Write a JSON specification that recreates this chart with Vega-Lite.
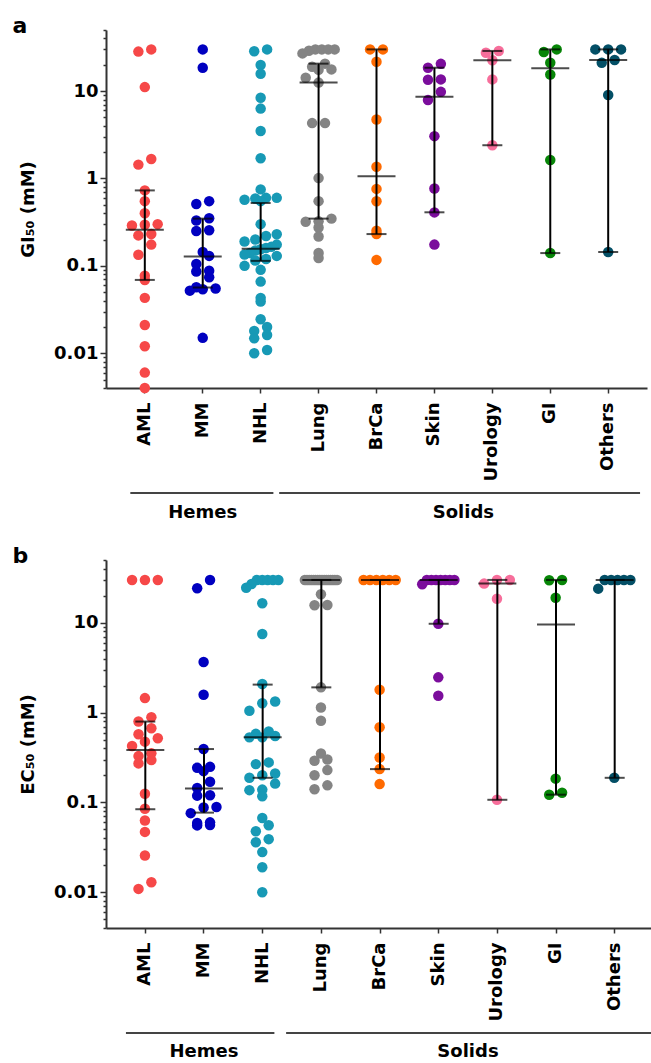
{
  "$schema": "https://vega.github.io/schema/vega-lite/v6.json",
  "padding": {"left": 12, "top": 15, "right": 0, "bottom": 0},
  "spacing": 23,
  "config": {
    "font": "DejaVu Sans",
    "view": {"stroke": null},
    "axis": {"grid": false, "domainColor": "#333", "domainWidth": 2, "tickColor": "#333", "tickWidth": 1.5, "labelColor": "black", "labelFont": "DejaVu Sans", "labelFontSize": 18, "labelFontWeight": "bold", "titleFont": "DejaVu Sans", "titleFontSize": 18, "titleFontWeight": "bold", "titleColor": "black"},
    "title": {"font": "DejaVu Sans", "fontSize": 22, "fontWeight": "bold", "color": "black", "anchor": "start"}
  },
  "datasets": {
    "pts": [
      {"panel":"a","group":"AML","value":30},{"panel":"a","group":"AML","value":28.3},{"panel":"a","group":"AML","value":11.1},{"panel":"a","group":"AML","value":1.67},{"panel":"a","group":"AML","value":1.44},{"panel":"a","group":"AML","value":0.73},{"panel":"a","group":"AML","value":0.55},{"panel":"a","group":"AML","value":0.40},{"panel":"a","group":"AML","value":0.30},{"panel":"a","group":"AML","value":0.295},{"panel":"a","group":"AML","value":0.29},{"panel":"a","group":"AML","value":0.231},{"panel":"a","group":"AML","value":0.223},{"panel":"a","group":"AML","value":0.175},{"panel":"a","group":"AML","value":0.134},{"panel":"a","group":"AML","value":0.077},{"panel":"a","group":"AML","value":0.069},{"panel":"a","group":"AML","value":0.043},{"panel":"a","group":"AML","value":0.021},{"panel":"a","group":"AML","value":0.012},{"panel":"a","group":"AML","value":0.006},{"panel":"a","group":"AML","value":0.004},
      {"panel":"a","group":"MM","value":30},{"panel":"a","group":"MM","value":18.5},{"panel":"a","group":"MM","value":0.55},{"panel":"a","group":"MM","value":0.51},{"panel":"a","group":"MM","value":0.35},{"panel":"a","group":"MM","value":0.33},{"panel":"a","group":"MM","value":0.255},{"panel":"a","group":"MM","value":0.25},{"panel":"a","group":"MM","value":0.144},{"panel":"a","group":"MM","value":0.13},{"panel":"a","group":"MM","value":0.105},{"panel":"a","group":"MM","value":0.088},{"panel":"a","group":"MM","value":0.086},{"panel":"a","group":"MM","value":0.074},{"panel":"a","group":"MM","value":0.057},{"panel":"a","group":"MM","value":0.055},{"panel":"a","group":"MM","value":0.054},{"panel":"a","group":"MM","value":0.052},{"panel":"a","group":"MM","value":0.015},
      {"panel":"a","group":"NHL","value":30},{"panel":"a","group":"NHL","value":28.5},{"panel":"a","group":"NHL","value":19.9},{"panel":"a","group":"NHL","value":15.8},{"panel":"a","group":"NHL","value":8.4},{"panel":"a","group":"NHL","value":6.3},{"panel":"a","group":"NHL","value":3.5},{"panel":"a","group":"NHL","value":1.7},{"panel":"a","group":"NHL","value":0.75},{"panel":"a","group":"NHL","value":0.60},{"panel":"a","group":"NHL","value":0.59},{"panel":"a","group":"NHL","value":0.55},{"panel":"a","group":"NHL","value":0.57},{"panel":"a","group":"NHL","value":0.60},{"panel":"a","group":"NHL","value":0.30},{"panel":"a","group":"NHL","value":0.23},{"panel":"a","group":"NHL","value":0.22},{"panel":"a","group":"NHL","value":0.20},{"panel":"a","group":"NHL","value":0.19},{"panel":"a","group":"NHL","value":0.175},{"panel":"a","group":"NHL","value":0.165},{"panel":"a","group":"NHL","value":0.16},{"panel":"a","group":"NHL","value":0.155},{"panel":"a","group":"NHL","value":0.15},{"panel":"a","group":"NHL","value":0.14},{"panel":"a","group":"NHL","value":0.135},{"panel":"a","group":"NHL","value":0.13},{"panel":"a","group":"NHL","value":0.12},{"panel":"a","group":"NHL","value":0.115},{"panel":"a","group":"NHL","value":0.10},{"panel":"a","group":"NHL","value":0.09},{"panel":"a","group":"NHL","value":0.066},{"panel":"a","group":"NHL","value":0.043},{"panel":"a","group":"NHL","value":0.039},{"panel":"a","group":"NHL","value":0.0245},{"panel":"a","group":"NHL","value":0.020},{"panel":"a","group":"NHL","value":0.018},{"panel":"a","group":"NHL","value":0.0162},{"panel":"a","group":"NHL","value":0.0148},{"panel":"a","group":"NHL","value":0.0109},{"panel":"a","group":"NHL","value":0.0100},
      {"panel":"a","group":"Lung","value":30},{"panel":"a","group":"Lung","value":30},{"panel":"a","group":"Lung","value":30},{"panel":"a","group":"Lung","value":30},{"panel":"a","group":"Lung","value":29},{"panel":"a","group":"Lung","value":27},{"panel":"a","group":"Lung","value":20.6},{"panel":"a","group":"Lung","value":19},{"panel":"a","group":"Lung","value":17.7},{"panel":"a","group":"Lung","value":17.5},{"panel":"a","group":"Lung","value":14.2},{"panel":"a","group":"Lung","value":12.5},{"panel":"a","group":"Lung","value":4.3},{"panel":"a","group":"Lung","value":4.3},{"panel":"a","group":"Lung","value":1.01},{"panel":"a","group":"Lung","value":0.55},{"panel":"a","group":"Lung","value":0.347},{"panel":"a","group":"Lung","value":0.323},{"panel":"a","group":"Lung","value":0.32},{"panel":"a","group":"Lung","value":0.275},{"panel":"a","group":"Lung","value":0.217},{"panel":"a","group":"Lung","value":0.14},{"panel":"a","group":"Lung","value":0.123},
      {"panel":"a","group":"BrCa","value":30},{"panel":"a","group":"BrCa","value":30},{"panel":"a","group":"BrCa","value":21.7},{"panel":"a","group":"BrCa","value":4.73},{"panel":"a","group":"BrCa","value":1.36},{"panel":"a","group":"BrCa","value":0.76},{"panel":"a","group":"BrCa","value":0.548},{"panel":"a","group":"BrCa","value":0.252},{"panel":"a","group":"BrCa","value":0.231},{"panel":"a","group":"BrCa","value":0.117},
      {"panel":"a","group":"Skin","value":20.5},{"panel":"a","group":"Skin","value":18.5},{"panel":"a","group":"Skin","value":13.6},{"panel":"a","group":"Skin","value":13.5},{"panel":"a","group":"Skin","value":9.8},{"panel":"a","group":"Skin","value":7.9},{"panel":"a","group":"Skin","value":3.05},{"panel":"a","group":"Skin","value":0.766},{"panel":"a","group":"Skin","value":0.409},{"panel":"a","group":"Skin","value":0.175},
      {"panel":"a","group":"Urology","value":28.8},{"panel":"a","group":"Urology","value":27.5},{"panel":"a","group":"Urology","value":22.5},{"panel":"a","group":"Urology","value":13.6},{"panel":"a","group":"Urology","value":2.4},
      {"panel":"a","group":"GI","value":30},{"panel":"a","group":"GI","value":28},{"panel":"a","group":"GI","value":21.1},{"panel":"a","group":"GI","value":15.5},{"panel":"a","group":"GI","value":1.63},{"panel":"a","group":"GI","value":0.14},
      {"panel":"a","group":"Others","value":30},{"panel":"a","group":"Others","value":30},{"panel":"a","group":"Others","value":30},{"panel":"a","group":"Others","value":22.7},{"panel":"a","group":"Others","value":21.1},{"panel":"a","group":"Others","value":9.0},{"panel":"a","group":"Others","value":0.144},
      {"panel":"b","group":"AML","value":30},{"panel":"b","group":"AML","value":30},{"panel":"b","group":"AML","value":30},{"panel":"b","group":"AML","value":1.45},{"panel":"b","group":"AML","value":0.89},{"panel":"b","group":"AML","value":0.795},{"panel":"b","group":"AML","value":0.67},{"panel":"b","group":"AML","value":0.573},{"panel":"b","group":"AML","value":0.518},{"panel":"b","group":"AML","value":0.475},{"panel":"b","group":"AML","value":0.425},{"panel":"b","group":"AML","value":0.352},{"panel":"b","group":"AML","value":0.328},{"panel":"b","group":"AML","value":0.296},{"panel":"b","group":"AML","value":0.272},{"panel":"b","group":"AML","value":0.125},{"panel":"b","group":"AML","value":0.085},{"panel":"b","group":"AML","value":0.063},{"panel":"b","group":"AML","value":0.047},{"panel":"b","group":"AML","value":0.0257},{"panel":"b","group":"AML","value":0.0129},{"panel":"b","group":"AML","value":0.0109},
      {"panel":"b","group":"MM","value":30},{"panel":"b","group":"MM","value":24.2},{"panel":"b","group":"MM","value":3.66},{"panel":"b","group":"MM","value":1.58},{"panel":"b","group":"MM","value":0.393},{"panel":"b","group":"MM","value":0.249},{"panel":"b","group":"MM","value":0.243},{"panel":"b","group":"MM","value":0.223},{"panel":"b","group":"MM","value":0.170},{"panel":"b","group":"MM","value":0.145},{"panel":"b","group":"MM","value":0.120},{"panel":"b","group":"MM","value":0.119},{"panel":"b","group":"MM","value":0.089},{"panel":"b","group":"MM","value":0.088},{"panel":"b","group":"MM","value":0.076},{"panel":"b","group":"MM","value":0.060},{"panel":"b","group":"MM","value":0.059},{"panel":"b","group":"MM","value":0.056},{"panel":"b","group":"MM","value":0.0555},
      {"panel":"b","group":"NHL","value":30},{"panel":"b","group":"NHL","value":30},{"panel":"b","group":"NHL","value":30},{"panel":"b","group":"NHL","value":30},{"panel":"b","group":"NHL","value":30},{"panel":"b","group":"NHL","value":27},{"panel":"b","group":"NHL","value":24.5},{"panel":"b","group":"NHL","value":16.5},{"panel":"b","group":"NHL","value":7.5},{"panel":"b","group":"NHL","value":2.08},{"panel":"b","group":"NHL","value":1.33},{"panel":"b","group":"NHL","value":1.27},{"panel":"b","group":"NHL","value":1.05},{"panel":"b","group":"NHL","value":0.615},{"panel":"b","group":"NHL","value":0.58},{"panel":"b","group":"NHL","value":0.55},{"panel":"b","group":"NHL","value":0.53},{"panel":"b","group":"NHL","value":0.53},{"panel":"b","group":"NHL","value":0.279},{"panel":"b","group":"NHL","value":0.267},{"panel":"b","group":"NHL","value":0.21},{"panel":"b","group":"NHL","value":0.201},{"panel":"b","group":"NHL","value":0.188},{"panel":"b","group":"NHL","value":0.162},{"panel":"b","group":"NHL","value":0.139},{"panel":"b","group":"NHL","value":0.137},{"panel":"b","group":"NHL","value":0.117},{"panel":"b","group":"NHL","value":0.067},{"panel":"b","group":"NHL","value":0.0556},{"panel":"b","group":"NHL","value":0.0477},{"panel":"b","group":"NHL","value":0.039},{"panel":"b","group":"NHL","value":0.036},{"panel":"b","group":"NHL","value":0.028},{"panel":"b","group":"NHL","value":0.019},{"panel":"b","group":"NHL","value":0.010},
      {"panel":"b","group":"Lung","value":30},{"panel":"b","group":"Lung","value":30},{"panel":"b","group":"Lung","value":30},{"panel":"b","group":"Lung","value":30},{"panel":"b","group":"Lung","value":30},{"panel":"b","group":"Lung","value":30},{"panel":"b","group":"Lung","value":30},{"panel":"b","group":"Lung","value":30},{"panel":"b","group":"Lung","value":30},{"panel":"b","group":"Lung","value":30},{"panel":"b","group":"Lung","value":30},{"panel":"b","group":"Lung","value":30},{"panel":"b","group":"Lung","value":30},{"panel":"b","group":"Lung","value":30},{"panel":"b","group":"Lung","value":30},{"panel":"b","group":"Lung","value":30},{"panel":"b","group":"Lung","value":20.8},{"panel":"b","group":"Lung","value":15.8},{"panel":"b","group":"Lung","value":15.7},{"panel":"b","group":"Lung","value":1.91},{"panel":"b","group":"Lung","value":1.14},{"panel":"b","group":"Lung","value":0.81},{"panel":"b","group":"Lung","value":0.35},{"panel":"b","group":"Lung","value":0.30},{"panel":"b","group":"Lung","value":0.291},{"panel":"b","group":"Lung","value":0.229},{"panel":"b","group":"Lung","value":0.201},{"panel":"b","group":"Lung","value":0.155},{"panel":"b","group":"Lung","value":0.14},
      {"panel":"b","group":"BrCa","value":30},{"panel":"b","group":"BrCa","value":30},{"panel":"b","group":"BrCa","value":30},{"panel":"b","group":"BrCa","value":30},{"panel":"b","group":"BrCa","value":30},{"panel":"b","group":"BrCa","value":30},{"panel":"b","group":"BrCa","value":1.80},{"panel":"b","group":"BrCa","value":0.687},{"panel":"b","group":"BrCa","value":0.317},{"panel":"b","group":"BrCa","value":0.235},{"panel":"b","group":"BrCa","value":0.16},
      {"panel":"b","group":"Skin","value":30},{"panel":"b","group":"Skin","value":30},{"panel":"b","group":"Skin","value":30},{"panel":"b","group":"Skin","value":30},{"panel":"b","group":"Skin","value":30},{"panel":"b","group":"Skin","value":30},{"panel":"b","group":"Skin","value":30},{"panel":"b","group":"Skin","value":26.9},{"panel":"b","group":"Skin","value":9.75},{"panel":"b","group":"Skin","value":2.47},{"panel":"b","group":"Skin","value":1.54},
      {"panel":"b","group":"Urology","value":30},{"panel":"b","group":"Urology","value":30},{"panel":"b","group":"Urology","value":27.3},{"panel":"b","group":"Urology","value":18.5},{"panel":"b","group":"Urology","value":0.107},
      {"panel":"b","group":"GI","value":30},{"panel":"b","group":"GI","value":29.8},{"panel":"b","group":"GI","value":19.0},{"panel":"b","group":"GI","value":0.184},{"panel":"b","group":"GI","value":0.128},{"panel":"b","group":"GI","value":0.122},
      {"panel":"b","group":"Others","value":30},{"panel":"b","group":"Others","value":30},{"panel":"b","group":"Others","value":30},{"panel":"b","group":"Others","value":30},{"panel":"b","group":"Others","value":30},{"panel":"b","group":"Others","value":24},{"panel":"b","group":"Others","value":0.188}
    ],
    "stats": [
      {"panel":"a","group":"AML","median":0.259,"q1":0.069,"q3":0.73},
      {"panel":"a","group":"MM","median":0.128,"q1":0.0565,"q3":0.347},
      {"panel":"a","group":"NHL","median":0.157,"q1":0.114,"q3":0.524},
      {"panel":"a","group":"Lung","median":12.5,"q1":0.347,"q3":20.6},
      {"panel":"a","group":"BrCa","median":1.06,"q1":0.231,"q3":30},
      {"panel":"a","group":"Skin","median":8.6,"q1":0.41,"q3":18.5},
      {"panel":"a","group":"Urology","median":22.6,"q1":2.4,"q3":28.8},
      {"panel":"a","group":"GI","median":18.2,"q1":0.14,"q3":30},
      {"panel":"a","group":"Others","median":22.7,"q1":0.144,"q3":30},
      {"panel":"b","group":"AML","median":0.384,"q1":0.084,"q3":0.795},
      {"panel":"b","group":"MM","median":0.143,"q1":0.077,"q3":0.393},
      {"panel":"b","group":"NHL","median":0.531,"q1":0.188,"q3":2.05},
      {"panel":"b","group":"Lung","median":30,"q1":1.91,"q3":30},
      {"panel":"b","group":"BrCa","median":30,"q1":0.235,"q3":30},
      {"panel":"b","group":"Skin","median":30,"q1":9.75,"q3":30},
      {"panel":"b","group":"Urology","median":27.3,"q1":0.107,"q3":30},
      {"panel":"b","group":"GI","median":9.6,"q1":0.122,"q3":30},
      {"panel":"b","group":"Others","median":30,"q1":0.188,"q3":30}
    ],
    "groups": [
      {"label":"Hemes","from":"AML","to":"NHL","mid":"MM"},
      {"label":"Solids","from":"Lung","to":"Others","mid":"Urology"}
    ]
  },
  "vconcat": [
    {
      "spacing": 10,
      "vconcat": [
        {
          "title": {"text": "a", "frame": "bounds", "offset": -17, "dx": -7},
          "width": 541, "height": 358,
          "encoding": {
            "x": {"field": "group", "type": "nominal",
              "scale": {"domain": ["AML","MM","NHL","Lung","BrCa","Skin","Urology","GI","Others"], "paddingInner": 0, "paddingOuter": 0.17},
              "axis": {"title": null, "labelAngle": -90, "labelAlign": "right", "labelBaseline": "middle", "tickSize": 5, "labelPadding": 9}}
          },
          "layer": [
            {
              "data": {"name": "pts"},
              "transform": [
                {"filter": {"field": "panel", "equal": "a"}},
                {"calculate": "floor(log(datum.value) / LN10 / 0.125)", "as": "bin"},
                {"joinaggregate": [{"op": "count", "as": "n"}], "groupby": ["group", "bin"]},
                {"window": [{"op": "row_number", "as": "r"}], "groupby": ["group", "bin"], "sort": [{"field": "value", "order": "ascending"}]},
                {"calculate": "(datum.r - (datum.n + 1) / 2) * min(2, 5 / max(1, datum.n - 1))", "as": "jit"}
              ],
              "mark": {"type": "circle", "size": 110, "opacity": 1},
              "encoding": {
                "xOffset": {"field": "jit", "type": "quantitative", "scale": {"domain": [-4.5, 4.5], "zero": false, "nice": false}},
                "y": {"field": "value", "type": "quantitative", "title": "GI₅₀ (mM)",
                  "scale": {"type": "log", "domain": [0.004, 50], "nice": false},
                  "axis": {"values": [0.004,0.005,0.006,0.007,0.008,0.009,0.01,0.02,0.03,0.04,0.05,0.06,0.07,0.08,0.09,0.1,0.2,0.3,0.4,0.5,0.6,0.7,0.8,0.9,1,2,3,4,5,6,7,8,9,10,20,30,40,50],
                    "format": "~g", "labelOverlap": false, "labelBound": false, "labelFlush": false,
                    "labelExpr": "indexof([0.01,0.1,1,10], datum.value) >= 0 ? datum.label : ''",
                    "tickSize": {"condition": {"test": "indexof([0.01,0.1,1,10], datum.value) >= 0", "value": 6}, "value": 3},
                    "labelPadding": 2, "titlePadding": 16}},
                "color": {"field": "group", "type": "nominal", "legend": null,
                  "scale": {"domain": ["AML","MM","NHL","Lung","BrCa","Skin","Urology","GI","Others"],
                    "range": ["#f64848","#0000c0","#1799b5","#848484","#ff6a00","#7b0d9c","#f76e9b","#078607","#034f66"]}}
              }
            },
            {
              "data": {"name": "stats"},
              "transform": [{"filter": {"field": "panel", "equal": "a"}}],
              "mark": {"type": "rule", "color": "black", "strokeWidth": 2},
              "encoding": {"y": {"field": "q1", "type": "quantitative", "title": "GI₅₀ (mM)"}, "y2": {"field": "q3"}}
            },
            {
              "data": {"name": "stats"},
              "transform": [{"filter": {"field": "panel", "equal": "a"}}],
              "mark": {"type": "tick", "color": "black", "size": 38, "thickness": 2},
              "encoding": {"y": {"field": "median", "type": "quantitative", "title": "GI₅₀ (mM)"}}
            },
            {
              "data": {"name": "stats"},
              "transform": [{"filter": {"field": "panel", "equal": "a"}}],
              "mark": {"type": "tick", "color": "black", "size": 20, "thickness": 2},
              "encoding": {"y": {"field": "q1", "type": "quantitative", "title": "GI₅₀ (mM)"}}
            },
            {
              "data": {"name": "stats"},
              "transform": [{"filter": {"field": "panel", "equal": "a"}}],
              "mark": {"type": "tick", "color": "black", "size": 20, "thickness": 2},
              "encoding": {"y": {"field": "q3", "type": "quantitative", "title": "GI₅₀ (mM)"}}
            }
          ]
        },
        {
          "width": 541, "height": 2,
          "data": {"name": "groups"},
          "layer": [
            {
              "transform": [{"filter": {"field": "label", "equal": "Hemes"}}],
              "mark": {"type": "rule", "color": "#444", "strokeWidth": 2},
              "encoding": {
                "x": {"field": "from", "type": "nominal", "bandPosition": 0.25, "axis": null, "scale": {"domain": ["AML","MM","NHL","Lung","BrCa","Skin","Urology","GI","Others"], "paddingInner": 0, "paddingOuter": 0.17}},
                "x2": {"field": "to", "bandPosition": 0.72}
              }
            },
            {
              "transform": [{"filter": {"field": "label", "equal": "Solids"}}],
              "mark": {"type": "rule", "color": "#444", "strokeWidth": 2},
              "encoding": {
                "x": {"field": "from", "type": "nominal", "bandPosition": -0.18, "axis": null},
                "x2": {"field": "to", "bandPosition": 1.05}
              }
            },
            {
              "transform": [{"filter": {"field": "label", "equal": "Hemes"}}],
              "mark": {"type": "text", "fontSize": 18, "fontWeight": "bold", "color": "black", "dy": 20},
              "encoding": {"x": {"field": "mid", "type": "nominal", "bandPosition": 0.5, "axis": null}, "text": {"field": "label"}}
            },
            {
              "transform": [{"filter": {"field": "label", "equal": "Solids"}}],
              "mark": {"type": "text", "fontSize": 18, "fontWeight": "bold", "color": "black", "dy": 20},
              "encoding": {"x": {"field": "mid", "type": "nominal", "bandPosition": 0, "axis": null}, "text": {"field": "label"}}
            }
          ]
        }
      ]
    },
    {
      "spacing": 10,
      "vconcat": [
        {
          "title": {"text": "b", "frame": "bounds", "offset": -17, "dx": -7},
          "width": 548, "height": 368,
          "encoding": {
            "x": {"field": "group", "type": "nominal",
              "scale": {"domain": ["AML","MM","NHL","Lung","BrCa","Skin","Urology","GI","Others"], "paddingInner": 0, "paddingOuter": 0.17},
              "axis": {"title": null, "labelAngle": -90, "labelAlign": "right", "labelBaseline": "middle", "tickSize": 5, "labelPadding": 9}}
          },
          "layer": [
            {
              "data": {"name": "pts"},
              "transform": [
                {"filter": {"field": "panel", "equal": "b"}},
                {"calculate": "floor(log(datum.value) / LN10 / 0.125)", "as": "bin"},
                {"joinaggregate": [{"op": "count", "as": "n"}], "groupby": ["group", "bin"]},
                {"window": [{"op": "row_number", "as": "r"}], "groupby": ["group", "bin"], "sort": [{"field": "value", "order": "ascending"}]},
                {"calculate": "(datum.r - (datum.n + 1) / 2) * min(2, 5 / max(1, datum.n - 1))", "as": "jit"}
              ],
              "mark": {"type": "circle", "size": 110, "opacity": 1},
              "encoding": {
                "xOffset": {"field": "jit", "type": "quantitative", "scale": {"domain": [-4.5, 4.5], "zero": false, "nice": false}},
                "y": {"field": "value", "type": "quantitative", "title": "EC₅₀ (mM)",
                  "scale": {"type": "log", "domain": [0.004, 50], "nice": false},
                  "axis": {"values": [0.004,0.005,0.006,0.007,0.008,0.009,0.01,0.02,0.03,0.04,0.05,0.06,0.07,0.08,0.09,0.1,0.2,0.3,0.4,0.5,0.6,0.7,0.8,0.9,1,2,3,4,5,6,7,8,9,10,20,30,40,50],
                    "format": "~g", "labelOverlap": false, "labelBound": false, "labelFlush": false,
                    "labelExpr": "indexof([0.01,0.1,1,10], datum.value) >= 0 ? datum.label : ''",
                    "tickSize": {"condition": {"test": "indexof([0.01,0.1,1,10], datum.value) >= 0", "value": 6}, "value": 3},
                    "labelPadding": 2, "titlePadding": 16}},
                "color": {"field": "group", "type": "nominal", "legend": null,
                  "scale": {"domain": ["AML","MM","NHL","Lung","BrCa","Skin","Urology","GI","Others"],
                    "range": ["#f64848","#0000c0","#1799b5","#848484","#ff6a00","#7b0d9c","#f76e9b","#078607","#034f66"]}}
              }
            },
            {
              "data": {"name": "stats"},
              "transform": [{"filter": {"field": "panel", "equal": "b"}}],
              "mark": {"type": "rule", "color": "black", "strokeWidth": 2},
              "encoding": {"y": {"field": "q1", "type": "quantitative", "title": "EC₅₀ (mM)"}, "y2": {"field": "q3"}}
            },
            {
              "data": {"name": "stats"},
              "transform": [{"filter": {"field": "panel", "equal": "b"}}],
              "mark": {"type": "tick", "color": "black", "size": 38, "thickness": 2},
              "encoding": {"y": {"field": "median", "type": "quantitative", "title": "EC₅₀ (mM)"}}
            },
            {
              "data": {"name": "stats"},
              "transform": [{"filter": {"field": "panel", "equal": "b"}}],
              "mark": {"type": "tick", "color": "black", "size": 20, "thickness": 2},
              "encoding": {"y": {"field": "q1", "type": "quantitative", "title": "EC₅₀ (mM)"}}
            },
            {
              "data": {"name": "stats"},
              "transform": [{"filter": {"field": "panel", "equal": "b"}}],
              "mark": {"type": "tick", "color": "black", "size": 20, "thickness": 2},
              "encoding": {"y": {"field": "q3", "type": "quantitative", "title": "EC₅₀ (mM)"}}
            }
          ]
        },
        {
          "width": 548, "height": 2,
          "data": {"name": "groups"},
          "layer": [
            {
              "transform": [{"filter": {"field": "label", "equal": "Hemes"}}],
              "mark": {"type": "rule", "color": "#444", "strokeWidth": 2},
              "encoding": {
                "x": {"field": "from", "type": "nominal", "bandPosition": 0.17, "axis": null, "scale": {"domain": ["AML","MM","NHL","Lung","BrCa","Skin","Urology","GI","Others"], "paddingInner": 0, "paddingOuter": 0.17}},
                "x2": {"field": "to", "bandPosition": 0.7}
              }
            },
            {
              "transform": [{"filter": {"field": "label", "equal": "Solids"}}],
              "mark": {"type": "rule", "color": "#444", "strokeWidth": 2},
              "encoding": {
                "x": {"field": "from", "type": "nominal", "bandPosition": -0.1, "axis": null},
                "x2": {"field": "to", "bandPosition": 1.15}
              }
            },
            {
              "transform": [{"filter": {"field": "label", "equal": "Hemes"}}],
              "mark": {"type": "text", "fontSize": 18, "fontWeight": "bold", "color": "black", "dy": 19},
              "encoding": {"x": {"field": "mid", "type": "nominal", "bandPosition": 0.5, "axis": null}, "text": {"field": "label"}}
            },
            {
              "transform": [{"filter": {"field": "label", "equal": "Solids"}}],
              "mark": {"type": "text", "fontSize": 18, "fontWeight": "bold", "color": "black", "dy": 19},
              "encoding": {"x": {"field": "mid", "type": "nominal", "bandPosition": 0, "axis": null}, "text": {"field": "label"}}
            }
          ]
        }
      ]
    }
  ]
}
